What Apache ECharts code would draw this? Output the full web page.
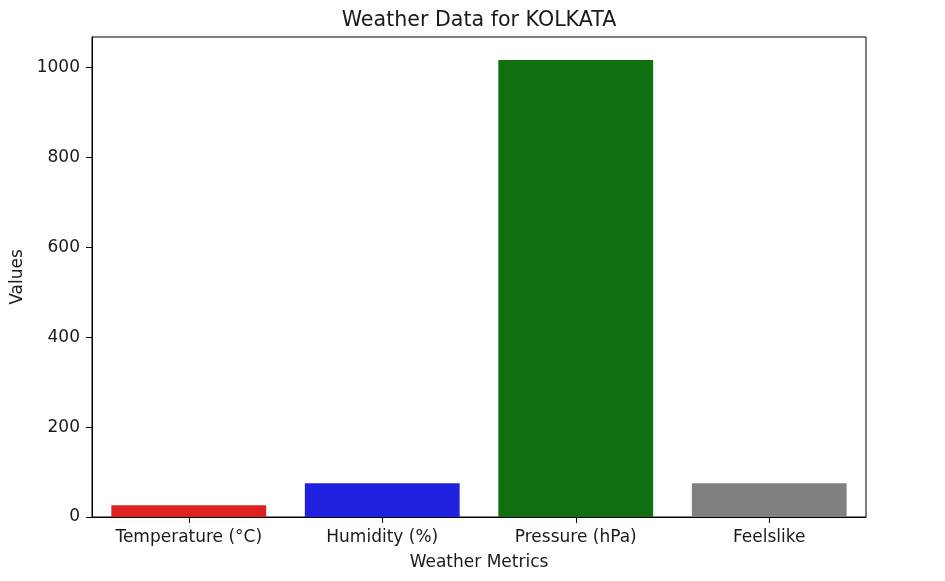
<!DOCTYPE html>
<html>
<head>
<meta charset="utf-8">
<script src="https://cdn.jsdelivr.net/npm/echarts@6/dist/echarts.min.js"></script>
<style>html,body{margin:0;padding:0;background:#fff;}#c{width:945px;height:581px;}</style>
</head>
<body>
<div id="c"></div>
<script>
const categories = ['Temperature (°C)', 'Humidity (%)', 'Pressure (hPa)', 'Feelslike'];
const values = [26, 75, 1017, 75];
const barColors = ['#df2020', '#2020df', '#107010', '#808080'];
const yTicks = [0, 200, 400, 600, 800, 1000];

const font = 'DejaVu Sans';
const txt = '#1a1a1a';
const chart = echarts.init(document.getElementById('c'), null, {renderer: 'canvas'});
chart.setOption({
  backgroundColor: '#fff',
  animation: false,
  title: {
    text: 'Weather Data for KOLKATA',
    left: 474, top: 5, textAlign: 'center',
    textStyle: {fontFamily: font, fontSize: 20.6, fontWeight: 'normal', color: txt}
  },
  grid: {left: 92, right: 79, top: 37, bottom: 64, show: true, borderColor: '#000', borderWidth: 1, backgroundColor: 'transparent'},
  xAxis: {
    type: 'category',
    data: categories,
    name: 'Weather Metrics',
    nameLocation: 'middle',
    nameGap: 37,
    nameTextStyle: {fontFamily: font, fontSize: 17, color: txt},
    axisLine: {show: true, lineStyle: {color: '#000', width: 1}},
    axisTick: {show: true, alignWithLabel: true, length: 6, lineStyle: {color: '#000'}},
    axisLabel: {fontFamily: font, fontSize: 17, color: txt, margin: 12, interval: 0}
  },
  yAxis: {
    type: 'value',
    min: 0,
    max: 1068,
    name: 'Values',
    nameLocation: 'middle',
    nameGap: 65,
    nameTextStyle: {fontFamily: font, fontSize: 17, color: txt},
    splitLine: {show: false},
    axisLine: {show: true, lineStyle: {color: '#000', width: 1}},
    axisTick: {show: true, length: 6, lineStyle: {color: '#000'}, customValues: yTicks},
    axisLabel: {fontFamily: font, fontSize: 17, color: txt, margin: 12, customValues: yTicks, formatter: v => String(v)}
  },
  series: [{
    type: 'bar',
    data: values.map((v, i) => ({value: v, itemStyle: {color: barColors[i]}})),
    barCategoryGap: '20%'
  }]
});
</script>
</body>
</html>
